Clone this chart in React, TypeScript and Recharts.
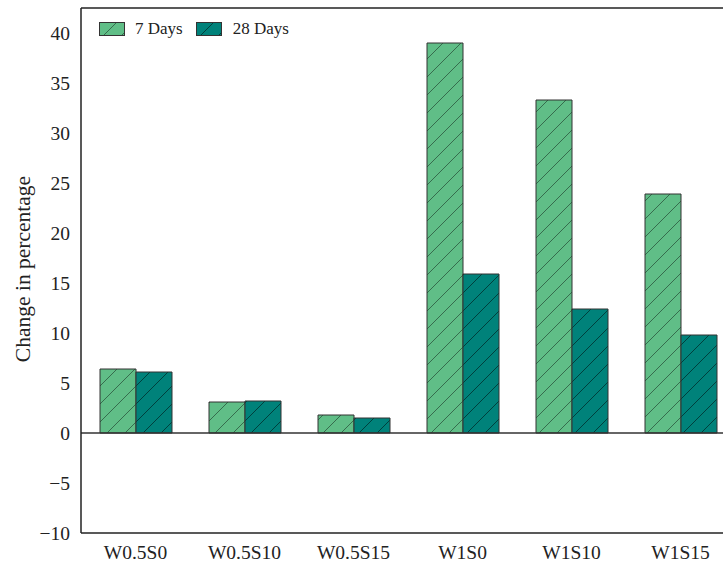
import React from 'react';
import { BarChart, Bar, XAxis, YAxis, ReferenceLine, Label } from 'recharts';

const categories = ['W0.5S0', 'W0.5S10', 'W0.5S15', 'W1S0', 'W1S10', 'W1S15'];
const days7 = [6.4, 3.1, 1.8, 39.0, 33.3, 23.9];
const days28 = [6.1, 3.2, 1.5, 15.9, 12.4, 9.8];
const yTicks = [-10, -5, 0, 5, 10, 15, 20, 25, 30, 35, 40];
const yMin = -10;
const yMax = 42.5;
const seriesNames = ['7 Days', '28 Days'];

const data = categories.map((c, i) => ({ name: c, d7: days7[i], d28: days28[i] }));

const C7 = '#60be87';
const C28 = '#00827a';
const FONT = '"Liberation Serif", "Times New Roman", serif';
const INK = '#222';

const fmt = (v: number) => (v < 0 ? '\u2212' + Math.abs(v) : String(v));

const Swatch = ({ id }: { id: string }) => (
  <svg width={26} height={14} style={{ display: 'block' }}>
    <rect x={0.5} y={0.5} width={25} height={13} fill={`url(#${id})`} stroke="#333" strokeWidth={1} />
  </svg>
);

const LegendBox = () => (
  <div
    style={{
      position: 'absolute',
      top: 20,
      left: 99,
      display: 'flex',
      alignItems: 'center',
      fontFamily: FONT,
      fontSize: 17,
      color: INK,
      lineHeight: '17px',
    }}
  >
    <Swatch id="hatch7" />
    <span style={{ marginLeft: 10, marginRight: 13 }}>{seriesNames[0]}</span>
    <Swatch id="hatch28" />
    <span style={{ marginLeft: 11 }}>{seriesNames[1]}</span>
  </div>
);

export default function App() {
  return (
    <div style={{ position: 'fixed', left: 0, top: 0, width: 723, height: 564, overflow: 'hidden', background: '#fff' }}>
      <BarChart
        width={740}
        height={564}
        data={data}
        margin={{ top: 8, right: 5, left: 0, bottom: 0 }}
        barGap={0}
      >
        <defs>
          <pattern id="hatch7" patternUnits="userSpaceOnUse" width={18} height={18}>
            <rect width={18} height={18} fill={C7} />
            <path d="M-2,2 L2,-2 M0,18 L18,0 M16,20 L20,16" stroke="rgba(20,40,30,0.55)" strokeWidth={1} />
          </pattern>
          <pattern id="hatch28" patternUnits="userSpaceOnUse" width={18} height={18}>
            <rect width={18} height={18} fill={C28} />
            <path d="M-2,2 L2,-2 M0,18 L18,0 M16,20 L20,16" stroke="rgba(0,20,20,0.6)" strokeWidth={1} />
          </pattern>
        </defs>
        <XAxis
          dataKey="name"
          height={31}
          tickLine={false}
          tickSize={6}
          tickMargin={6}
          axisLine={{ stroke: INK, strokeWidth: 1.5 }}
          tick={{ fill: INK, fontFamily: FONT, fontSize: 19.5 }}
          interval={0}
        />
        <YAxis
          width={81}
          domain={[yMin, yMax]}
          ticks={yTicks}
          allowDataOverflow
          tickLine={false}
          tickSize={6}
          tickMargin={5}
          tickFormatter={fmt}
          axisLine={{ stroke: INK, strokeWidth: 1.5 }}
          tick={{ fill: INK, fontFamily: FONT, fontSize: 19.5 }}
        >
          <Label
            content={() => (
              <text
                x={23}
                y={269}
                transform="rotate(-90 23 269)"
                textAnchor="middle"
                dominantBaseline="central"
                fontFamily={FONT}
                fontSize={21.5}
                fill={INK}
              >
                Change in percentage
              </text>
            )}
          />
        </YAxis>
        <ReferenceLine y={yMax} stroke={INK} strokeWidth={1.5} ifOverflow="visible" />
        <ReferenceLine y={0} stroke="#333" strokeWidth={1.5} />
        <Bar dataKey="d7" name={seriesNames[0]} barSize={36} fill="url(#hatch7)" stroke="#333" strokeWidth={1} isAnimationActive={false} />
        <Bar dataKey="d28" name={seriesNames[1]} barSize={36} fill="url(#hatch28)" stroke="#333" strokeWidth={1} isAnimationActive={false} />
      </BarChart>
      <LegendBox />
    </div>
  );
}
